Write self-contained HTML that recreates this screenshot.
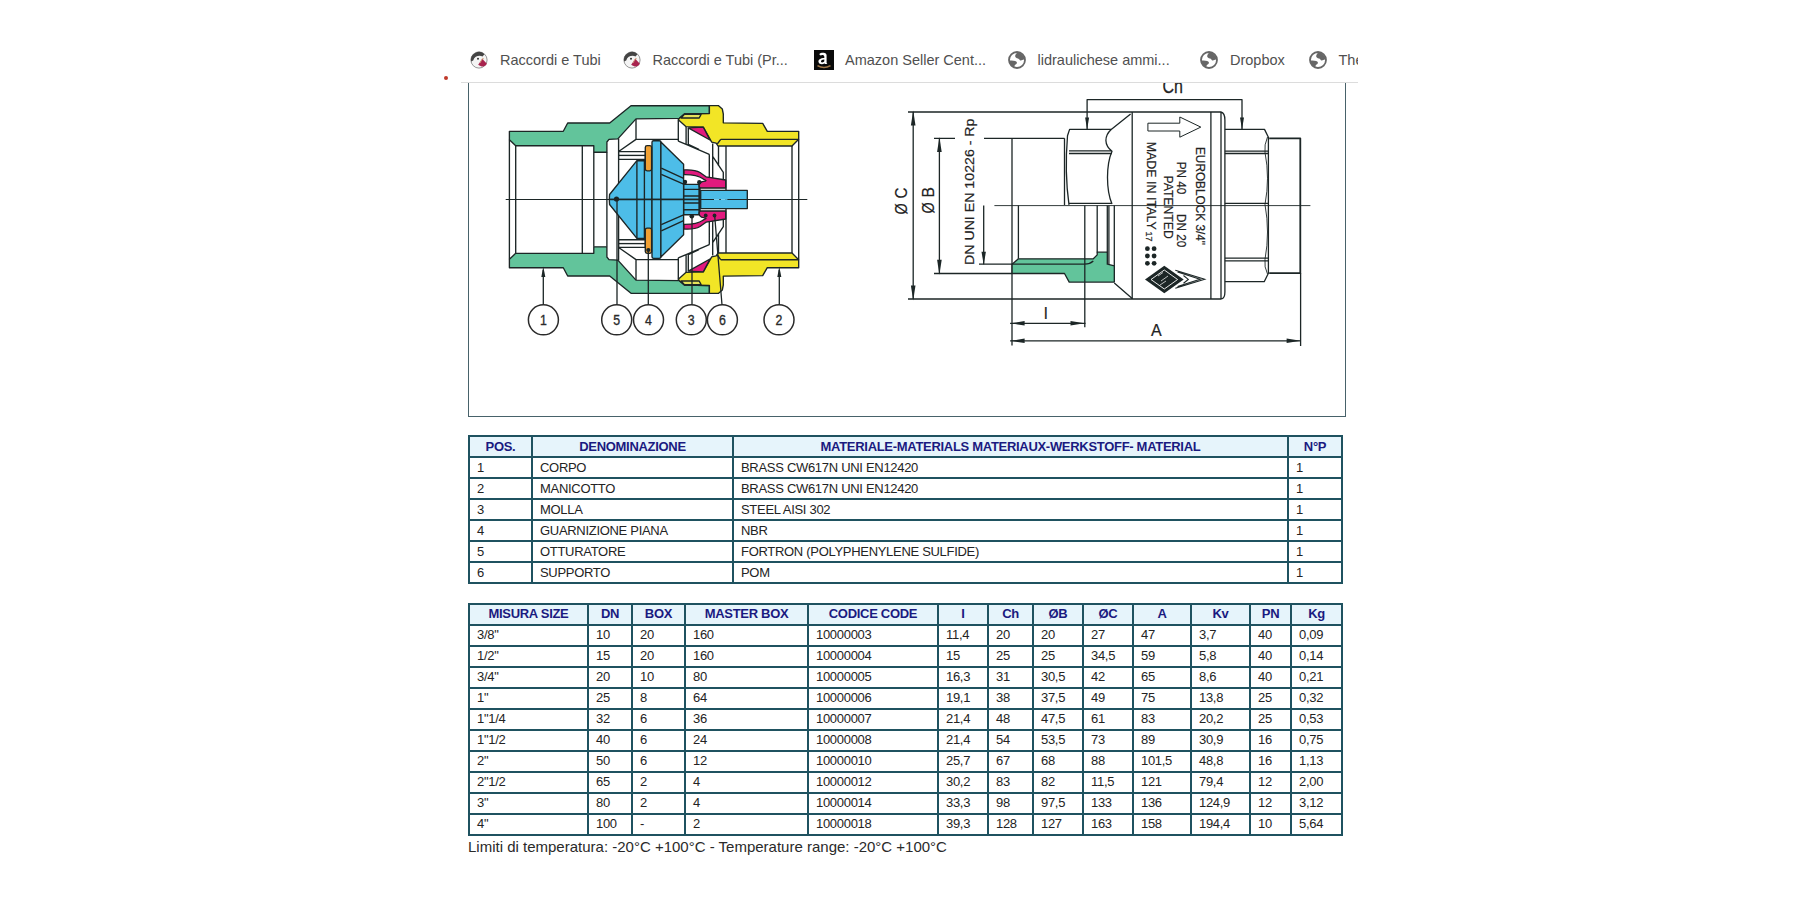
<!DOCTYPE html><html><head><meta charset="utf-8"><title>Euroblock</title><style>
*{margin:0;padding:0;box-sizing:border-box}
html,body{width:1800px;height:900px;background:#fff;overflow:hidden;position:relative;font-family:"Liberation Sans",sans-serif}
.a{position:absolute}
.t{position:absolute;font-size:13px;line-height:15px;letter-spacing:-0.3px;color:#232323;white-space:nowrap}
.h{position:absolute;font-size:13px;line-height:15px;letter-spacing:-0.3px;color:#1a1a80;font-weight:bold;white-space:nowrap;text-align:center}
.ln{position:absolute;background:#1f5260}
.bm{position:absolute;font-size:14.5px;line-height:16px;color:#505050;white-space:nowrap;top:52px}
</style></head><body>
<div class="a" style="left:468px;top:82px;width:878px;height:335px;border:1px solid #48626a;border-top:none"></div>
<svg class="a" style="left:0;top:0" width="1800" height="900" viewBox="0 0 1800 900"><g stroke="#1c2626" stroke-width="1.35" stroke-linejoin="round" fill="none"><polygon fill="#62c49b" points="509.4,131.3 563.3,131.3 567.7,123.0 609.7,123.0 631.0,105.7 709.4,105.7 709.4,113.5 684.4,114.0 679.4,118.3 636.0,118.9 617.8,138.9 609.0,139.4 606.9,142.0 606.9,152.2 593.8,152.2 593.8,145.7 515.7,145.7 509.4,139.7"/><path d="M509.4,139.7V199.5M515.7,145.7V199.5M582.3,145.7V199.5M593.8,152.2V199.5M606.9,152.2V199.5"/><path d="M636,118.9V139.4H678.3V119.7M618.6,138.6V184M619,151.3L636,139.4M678.3,141.2L686.1,144.4L709.3,154.3M678.3,139.4V141.2M686.1,127V144.4M688.3,128V144.4M688.3,144.4L698.9,149.4"/><path fill="#fff" d="M618.7,151.6H645.3V159.3H618.7Z"/><path d="M619,155.4H645.3"/><path d="M709.3,154.3V178M712.7,143.5V178M712.7,156.3L723.3,172.3V181M718.5,145.8V166M726,146V199.5"/><polygon fill="#4dbde8" points="609.3,199.5 609.6,194.5 612.0,191.5 636.9,160.7 652.0,160.7 652.0,199.5"/><path fill="#4dbde8" d="M652,199.5V142.2Q652,140.7 653.5,140.7H659.4Q660.9,140.7 660.9,142.2V199.5Z"/><polygon fill="#4dbde8" points="660.9,142.0 683.6,164.2 683.6,199.5 660.9,199.5"/><path d="M636.9,160.7V199.5M644.4,160.7V199.5M661.3,168.2L683.6,178.4M661.3,174.4L683.6,184.2"/><rect fill="#f0a033" x="645.3" y="145.6" width="6.3" height="25.3" rx="1.8"/><rect fill="#4dbde8" x="683.8" y="184.3" width="15.6" height="15.2"/><path d="M683.8,189.3H699.4M683.8,196H699.4"/><path stroke-width="2.2" d="M699.6,184.3V199.5"/><path fill="#4dbde8" d="M700.7,199.5V190.4H747.3V199.5"/><path fill="#e21a7e" d="M684,169.9C690,169.6 696,170 700,172.5L706,176.8L725.7,180V188H700.3C698.5,186.5 698.6,183.2 701.5,181.8C703.5,181 705.5,182 706,180.5L703,178.8C699,176 695,174.6 684,174.7Z"/><polygon fill="#f2e526" points="709.4,105.6 718.3,105.6 722.3,109.0 723.3,114.0 723.3,122.8 762.7,123.3 767.3,131.3 798.7,131.3 798.7,139.3 792.0,146.0 718.0,146.0 716.1,143.1 711.7,142.2 703.3,127.2 686.1,126.7 678.3,119.7 679.4,118.3 684.4,114.0 709.4,113.5"/><path d="M720.7,139.3H798.7M720.7,139.3L717.3,144"/><polygon fill="#e6e35a" points="681.1,118 684.4,114.4 701.1,114.4 699.2,118"/><polygon fill="#e21a7e" points="688.3,127.8 703.3,127.2 710,140"/><path d="M792,146V199.5M798.7,139.3V199.5"/></g><circle cx="685" cy="182" r="2.2" fill="#1c2626"/><circle cx="699.3" cy="182.3" r="2.2" fill="#1c2626"/><g transform="matrix(1,0,0,-1,0,399)"><g stroke="#1c2626" stroke-width="1.35" stroke-linejoin="round" fill="none"><polygon fill="#62c49b" points="509.4,131.3 563.3,131.3 567.7,123.0 609.7,123.0 631.0,105.7 709.4,105.7 709.4,113.5 684.4,114.0 679.4,118.3 636.0,118.9 617.8,138.9 609.0,139.4 606.9,142.0 606.9,152.2 593.8,152.2 593.8,145.7 515.7,145.7 509.4,139.7"/><path d="M509.4,139.7V199.5M515.7,145.7V199.5M582.3,145.7V199.5M593.8,152.2V199.5M606.9,152.2V199.5"/><path d="M636,118.9V139.4H678.3V119.7M618.6,138.6V184M619,151.3L636,139.4M678.3,141.2L686.1,144.4L709.3,154.3M678.3,139.4V141.2M686.1,127V144.4M688.3,128V144.4M688.3,144.4L698.9,149.4"/><path fill="#fff" d="M618.7,151.6H645.3V159.3H618.7Z"/><path d="M619,155.4H645.3"/><path d="M709.3,154.3V178M712.7,143.5V178M712.7,156.3L723.3,172.3V181M718.5,145.8V166M726,146V199.5"/><polygon fill="#4dbde8" points="609.3,199.5 609.6,194.5 612.0,191.5 636.9,160.7 652.0,160.7 652.0,199.5"/><path fill="#4dbde8" d="M652,199.5V142.2Q652,140.7 653.5,140.7H659.4Q660.9,140.7 660.9,142.2V199.5Z"/><polygon fill="#4dbde8" points="660.9,142.0 683.6,164.2 683.6,199.5 660.9,199.5"/><path d="M636.9,160.7V199.5M644.4,160.7V199.5M661.3,168.2L683.6,178.4M661.3,174.4L683.6,184.2"/><rect fill="#f0a033" x="645.3" y="145.6" width="6.3" height="25.3" rx="1.8"/><rect fill="#4dbde8" x="683.8" y="184.3" width="15.6" height="15.2"/><path d="M683.8,189.3H699.4M683.8,196H699.4"/><path stroke-width="2.2" d="M699.6,184.3V199.5"/><path fill="#4dbde8" d="M700.7,199.5V190.4H747.3V199.5"/><path fill="#e21a7e" d="M684,169.9C690,169.6 696,170 700,172.5L706,176.8L725.7,180V188H700.3C698.5,186.5 698.6,183.2 701.5,181.8C703.5,181 705.5,182 706,180.5L703,178.8C699,176 695,174.6 684,174.7Z"/><polygon fill="#f2e526" points="709.4,105.6 718.3,105.6 722.3,109.0 723.3,114.0 723.3,122.8 762.7,123.3 767.3,131.3 798.7,131.3 798.7,139.3 792.0,146.0 718.0,146.0 716.1,143.1 711.7,142.2 703.3,127.2 686.1,126.7 678.3,119.7 679.4,118.3 684.4,114.0 709.4,113.5"/><path d="M720.7,139.3H798.7M720.7,139.3L717.3,144"/><polygon fill="#e6e35a" points="681.1,118 684.4,114.4 701.1,114.4 699.2,118"/><polygon fill="#e21a7e" points="688.3,127.8 703.3,127.2 710,140"/><path d="M792,146V199.5M798.7,139.3V199.5"/></g></g><path stroke="#1c2626" stroke-width="1.1" d="M505.7,199.5H714M727.3,199.5H807.3M719.3,199.5H720.8"/><g stroke="#1c2626" stroke-width="1.3" fill="none"><path d="M543.3,270V304.7M617,199V304.7M648.3,250V304.7M692,216V304.7M714.7,216L722,304.7M779.3,270V304.7"/></g><g fill="#1c2626"><polygon points="543.3,266.5 541.3,277 545.3,277"/><polygon points="779.3,266.5 777.3,277 781.3,277"/><circle cx="616.5" cy="199.0" r="2.6"/><circle cx="648.3" cy="250.0" r="2.1"/><circle cx="691.8" cy="216.3" r="2.3"/><circle cx="705.7" cy="215.5" r="1.9"/><circle cx="714.5" cy="215.5" r="1.9"/></g><g stroke="#2a2a2a" stroke-width="1.5" fill="#fff"><circle cx="543.4" cy="319.8" r="15"/><circle cx="616.7" cy="319.8" r="15"/><circle cx="648.5" cy="319.8" r="15"/><circle cx="691.3" cy="319.8" r="15"/><circle cx="722.4" cy="319.8" r="15"/><circle cx="779.0" cy="319.8" r="15"/></g><g fill="#2a2a2a" font-family="Liberation Sans" font-size="13" text-anchor="middle"><text transform="translate(543.4,325) scale(0.95,1.12)" stroke="#2a2a2a" stroke-width="0.3">1</text><text transform="translate(616.7,325) scale(0.95,1.12)" stroke="#2a2a2a" stroke-width="0.3">5</text><text transform="translate(648.5,325) scale(0.95,1.12)" stroke="#2a2a2a" stroke-width="0.3">4</text><text transform="translate(691.3,325) scale(0.95,1.12)" stroke="#2a2a2a" stroke-width="0.3">3</text><text transform="translate(722.4,325) scale(0.95,1.12)" stroke="#2a2a2a" stroke-width="0.3">6</text><text transform="translate(779.0,325) scale(0.95,1.12)" stroke="#2a2a2a" stroke-width="0.3">2</text></g><g stroke="#1c2626" stroke-width="1.3" fill="none" stroke-linejoin="round"><path d="M908,112H1221M908,299H1221.5M934,138.3H955M984,138.3H1064.5M934,273.5H1012M979,264.2H1012"/><path d="M913.2,112V299M939.4,138.3V273.5M983.7,205.5V264.2"/><path stroke-width="0.9" d="M994.4,205.6H1310.4"/><path d="M1012,138.3V345.6M1018.4,205.6V258.8M1097.2,205.6V252.5M1107.3,205.6V264M1108.9,205.6V264M1114.3,205.6V282M1064.5,138.3V205"/><polygon fill="#62c49b" points="1012.1,264.2 1018.4,258.8 1093.3,258.8 1097.2,254.9 1097.2,252.2 1107.3,252.2 1107.3,264.2 1114.3,265.8 1114.3,282.1 1069.2,282.1 1064.5,273.5 1012.1,273.5"/><path d="M1012.1,264.2H1084.8Q1090,264 1093.3,261M1084.8,205.6V327.2"/><path d="M1069,204.9C1065.5,180 1065.5,160 1067.5,135.7L1069.6,129.4H1111.2C1104,136 1104,145 1112,151.2C1106,165 1106,190 1112,204M1069,150.9H1112M1069,153.5H1112M1069,203.3H1112"/><path d="M1130.6,113.9L1111.2,129.4M1114.3,282.9L1132.2,298.4"/><path d="M1132.2,112V299M1210.9,112V299M1221,112V299M1221,112Q1224.9,113 1224.9,120.1V291.9Q1224.9,298 1221.5,299"/><path d="M1224.9,129.4H1264.5L1268.4,137.2V273.2L1264.2,281.7H1224.9M1224.9,151.2H1268.4M1224.9,153.5H1268.4M1224.9,203.3H1268.4M1224.9,258.1H1268.4M1224.9,260.8H1268.4"/><path stroke-width="0.9" d="M1267.5,137Q1264,145 1265,152.3Q1270,178 1265,204.5Q1270,232 1265,259.5Q1264,267 1267.5,274"/><path stroke-width="1.8" d="M1269.2,138.3H1300.3V273.2H1269.2"/><path d="M1300.6,273V346M1087.1,129.4V99.6H1242V129.4M1010.1,323.3H1085.5M1010.1,340.8H1301"/><polygon stroke-width="1" points="1147.9,123.2 1179.8,123.2 1179.8,117 1200.8,127.1 1179.8,137.2 1179.8,131 1147.9,131"/></g><g fill="#1c2626"><polygon points="913.2,110.5 915.5,125.5 910.9,125.5"/><polygon points="913.2,300.5 910.9,285.5 915.5,285.5"/><polygon points="939.4,137.0 941.7,152.0 937.1,152.0"/><polygon points="939.4,274.8 937.1,259.8 941.7,259.8"/><polygon points="983.7,264.8 981.5,251.8 985.9,251.8"/><polygon points="1087.1,129.4 1085.1,117.4 1089.1,117.4"/><polygon points="1242.0,129.4 1240.0,117.4 1244.0,117.4"/><polygon points="1010.6,323.3 1024.6,321.1 1024.6,325.5"/><polygon points="1084.5,323.3 1070.5,325.5 1070.5,321.1"/><polygon points="1010.6,340.8 1024.6,338.6 1024.6,343.0"/><polygon points="1300.6,340.8 1286.6,343.0 1286.6,338.6"/><circle cx="1147.4" cy="248.7" r="2.4"/><circle cx="1147.4" cy="256.0" r="2.4"/><circle cx="1147.4" cy="263.3" r="2.4"/><circle cx="1154.1" cy="248.7" r="2.4"/><circle cx="1154.1" cy="256.0" r="2.4"/><circle cx="1154.1" cy="263.3" r="2.4"/></g><g stroke="#1c2626" fill="none" stroke-width="1.1"><polygon fill="#1c2626" stroke="none" points="1145,279.5 1164.3,265.7 1183.7,279.5 1164.3,293.3"/><polygon stroke="#fff" stroke-width="0.9" points="1151,279.5 1164.3,270 1177.6,279.5 1164.3,289"/><path stroke="#fff" stroke-width="0.7" d="M1158,276L1163,272.5M1161,281L1168,276M1160,285L1166,281"/><path d="M1175.3,270.3L1204.7,279.3L1175.3,288.3M1177.5,272L1200,279.3L1177.5,286.6M1183.5,275.5L1188.3,279.4L1183.5,283.3"/></g><g fill="#222" font-family="Liberation Sans" stroke="#222" stroke-width="0.2"><text font-size="17" transform="translate(906.6,214.6) rotate(-90) scale(0.85,1)">Ø</text><text font-size="17" transform="translate(906.6,198.6) rotate(-90) scale(0.9,1)">C</text><text font-size="17" transform="translate(933.6,213.6) rotate(-90) scale(0.85,1)">Ø</text><text font-size="17" transform="translate(933.6,197.4) rotate(-90) scale(0.92,1)">B</text><text font-size="13" transform="translate(973.8,265) rotate(-90)" textLength="146.5" lengthAdjust="spacingAndGlyphs">DN UNI EN 10226 - Rp</text><text font-size="13" transform="translate(1195.8,147) rotate(90)" textLength="98" lengthAdjust="spacingAndGlyphs">EUROBLOCK 3/4"</text><text font-size="13" transform="translate(1177.2,161.7) rotate(90)" textLength="85.5" lengthAdjust="spacingAndGlyphs" xml:space="preserve">PN 40      DN 20</text><text font-size="13" transform="translate(1163.9,175.4) rotate(90)" textLength="63.4" lengthAdjust="spacingAndGlyphs">PATENTED</text><text font-size="13" transform="translate(1147.2,141.7) rotate(90)" textLength="88" lengthAdjust="spacingAndGlyphs">MADE IN ITALY</text><text font-size="9" transform="translate(1145.8,231.5) rotate(90)" textLength="10" lengthAdjust="spacingAndGlyphs">17</text><text font-size="16" x="1151" y="336.3">A</text><text font-size="16" x="1044" y="318.6">l</text><text font-size="16" transform="translate(1162.5,92.8) scale(1,1.25)">Ch</text></g></svg>
<div class="a" style="left:0;top:0;width:1800px;height:82px;background:#fff"></div>
<div class="a" style="left:461px;top:82px;width:897px;height:1px;background:#dcdcdc"></div>
<div class="a" style="left:461px;top:0;width:897px;height:82px;overflow:hidden">
<div class="bm" style="left:39.0px">Raccordi e Tubi</div>
<div class="bm" style="left:191.5px">Raccordi e Tubi (Pr...</div>
<div class="bm" style="left:384.0px">Amazon Seller Cent...</div>
<div class="bm" style="left:576.5px">lidraulichese ammi...</div>
<div class="bm" style="left:769.0px">Dropbox</div>
<div class="bm" style="left:877.5px">The Hydraulic</div>
<svg class="a" style="left:8.0px;top:50.1px" width="20" height="20" viewBox="-10 -10 20 20"><circle r="8.1" fill="#f4f4f4" stroke="#8a8a8a" stroke-width="0.9"/><path d="M-7.9,1.5 A8,8 0 0 1 5.5,-5.8 L3.5,-3.5 C0.5,-5 -4.5,-4 -5.8,0.5 Z" fill="#444"/><circle cx="-1" cy="-1.3" r="1" fill="#333"/><path d="M-0.8,4.8 L3.2,-1.2 L7.9,3.8 C6,7 3,7.6 -0.8,4.8Z" fill="#a8234e"/><path d="M1,3 L3.6,-1.8 L5,-1" stroke="#d8a880" stroke-width="0.8" fill="none"/></svg>
<svg class="a" style="left:161.0px;top:50.1px" width="20" height="20" viewBox="-10 -10 20 20"><circle r="8.1" fill="#f4f4f4" stroke="#8a8a8a" stroke-width="0.9"/><path d="M-7.9,1.5 A8,8 0 0 1 5.5,-5.8 L3.5,-3.5 C0.5,-5 -4.5,-4 -5.8,0.5 Z" fill="#444"/><circle cx="-1" cy="-1.3" r="1" fill="#333"/><path d="M-0.8,4.8 L3.2,-1.2 L7.9,3.8 C6,7 3,7.6 -0.8,4.8Z" fill="#a8234e"/><path d="M1,3 L3.6,-1.8 L5,-1" stroke="#d8a880" stroke-width="0.8" fill="none"/></svg>
<svg class="a" style="left:353.0px;top:50.0px" width="20" height="20" viewBox="0 0 20 20"><rect width="20" height="20" fill="#0a0a0a"/><path d="M5.2,4.2 C6.5,2.6 10.5,2.2 12,3.8 C12.8,4.6 12.6,6 12.6,7.5 V12.8 C12.6,13.3 13,13.8 13.4,14 H10.8 L10.5,13.2 C9,14.6 5.5,14.7 4.6,12.2 C3.8,9.8 6.5,8 10.3,8 V6.8 C10.3,5 8,4.5 6.6,5.6 Z M10.3,9.6 C7.6,9.6 6.8,10.8 7,11.7 C7.3,12.8 9.6,12.6 10.3,11.3Z" fill="#fff"/><path d="M3.5,15.6 C7.5,18 12.5,18 16.5,15.6" stroke="#a0784a" stroke-width="1.6" fill="none"/></svg>
<svg class="a" style="left:546.0px;top:49.7px" width="20" height="20" viewBox="-10 -10 20 20"><circle r="8" fill="#fff" stroke="#666" stroke-width="1.8"/><path d="M0.3,-7.5 C-1.5,-5.8 -2.6,-3.8 -1.2,-2.4 C0.2,-1.2 1.8,-1.6 2.4,-0.4 C2.9,0.5 3.5,0.6 4.5,0.2 L7.6,-0.8 A7.7,7.7 0 0 0 0.3,-7.5Z" fill="#666"/><path d="M-7.7,0.4 C-5,0.6 -1.8,0.4 -0.5,1.8 C0.4,2.8 -0.2,3.8 -1.4,4.6 C-2.4,5.3 -2.8,6.2 -2.4,7.4 A7.7,7.7 0 0 1 -7.7,0.4Z" fill="#666"/></svg>
<svg class="a" style="left:738.0px;top:49.7px" width="20" height="20" viewBox="-10 -10 20 20"><circle r="8" fill="#fff" stroke="#666" stroke-width="1.8"/><path d="M0.3,-7.5 C-1.5,-5.8 -2.6,-3.8 -1.2,-2.4 C0.2,-1.2 1.8,-1.6 2.4,-0.4 C2.9,0.5 3.5,0.6 4.5,0.2 L7.6,-0.8 A7.7,7.7 0 0 0 0.3,-7.5Z" fill="#666"/><path d="M-7.7,0.4 C-5,0.6 -1.8,0.4 -0.5,1.8 C0.4,2.8 -0.2,3.8 -1.4,4.6 C-2.4,5.3 -2.8,6.2 -2.4,7.4 A7.7,7.7 0 0 1 -7.7,0.4Z" fill="#666"/></svg>
<svg class="a" style="left:847.0px;top:49.7px" width="20" height="20" viewBox="-10 -10 20 20"><circle r="8" fill="#fff" stroke="#666" stroke-width="1.8"/><path d="M0.3,-7.5 C-1.5,-5.8 -2.6,-3.8 -1.2,-2.4 C0.2,-1.2 1.8,-1.6 2.4,-0.4 C2.9,0.5 3.5,0.6 4.5,0.2 L7.6,-0.8 A7.7,7.7 0 0 0 0.3,-7.5Z" fill="#666"/><path d="M-7.7,0.4 C-5,0.6 -1.8,0.4 -0.5,1.8 C0.4,2.8 -0.2,3.8 -1.4,4.6 C-2.4,5.3 -2.8,6.2 -2.4,7.4 A7.7,7.7 0 0 1 -7.7,0.4Z" fill="#666"/></svg>
</div>
<div class="a" style="left:443.8px;top:75.6px;width:4.6px;height:4.6px;border-radius:50%;background:#c0392b"></div>
<div class="a" style="left:469px;top:436px;width:873px;height:21px;background:#e6f4fb"></div>
<div class="ln" style="left:468px;top:435px;width:875px;height:2px"></div>
<div class="ln" style="left:468px;top:456px;width:875px;height:2px"></div>
<div class="ln" style="left:468px;top:477px;width:875px;height:2px"></div>
<div class="ln" style="left:468px;top:498px;width:875px;height:2px"></div>
<div class="ln" style="left:468px;top:519px;width:875px;height:2px"></div>
<div class="ln" style="left:468px;top:540px;width:875px;height:2px"></div>
<div class="ln" style="left:468px;top:561px;width:875px;height:2px"></div>
<div class="ln" style="left:468px;top:582px;width:875px;height:2px"></div>
<div class="ln" style="left:468px;top:435px;width:2px;height:149px"></div>
<div class="ln" style="left:531px;top:435px;width:2px;height:149px"></div>
<div class="ln" style="left:732px;top:435px;width:2px;height:149px"></div>
<div class="ln" style="left:1287px;top:435px;width:2px;height:149px"></div>
<div class="ln" style="left:1341px;top:435px;width:2px;height:149px"></div>
<div class="h" style="left:470px;top:438.5px;width:61px">POS.</div>
<div class="h" style="left:533px;top:438.5px;width:199px">DENOMINAZIONE</div>
<div class="h" style="left:734px;top:438.5px;width:553px">MATERIALE-MATERIALS MATERIAUX-WERKSTOFF- MATERIAL</div>
<div class="h" style="left:1289px;top:438.5px;width:52px">N°P</div>
<div class="t" style="left:477px;top:459.7px">1</div>
<div class="t" style="left:540px;top:459.7px">CORPO</div>
<div class="t" style="left:741px;top:459.7px">BRASS CW617N UNI EN12420</div>
<div class="t" style="left:1296px;top:459.7px">1</div>
<div class="t" style="left:477px;top:480.7px">2</div>
<div class="t" style="left:540px;top:480.7px">MANICOTTO</div>
<div class="t" style="left:741px;top:480.7px">BRASS CW617N UNI EN12420</div>
<div class="t" style="left:1296px;top:480.7px">1</div>
<div class="t" style="left:477px;top:501.7px">3</div>
<div class="t" style="left:540px;top:501.7px">MOLLA</div>
<div class="t" style="left:741px;top:501.7px">STEEL AISI 302</div>
<div class="t" style="left:1296px;top:501.7px">1</div>
<div class="t" style="left:477px;top:522.7px">4</div>
<div class="t" style="left:540px;top:522.7px">GUARNIZIONE PIANA</div>
<div class="t" style="left:741px;top:522.7px">NBR</div>
<div class="t" style="left:1296px;top:522.7px">1</div>
<div class="t" style="left:477px;top:543.7px">5</div>
<div class="t" style="left:540px;top:543.7px">OTTURATORE</div>
<div class="t" style="left:741px;top:543.7px">FORTRON (POLYPHENYLENE SULFIDE)</div>
<div class="t" style="left:1296px;top:543.7px">1</div>
<div class="t" style="left:477px;top:564.7px">6</div>
<div class="t" style="left:540px;top:564.7px">SUPPORTO</div>
<div class="t" style="left:741px;top:564.7px">POM</div>
<div class="t" style="left:1296px;top:564.7px">1</div>
<div class="a" style="left:469px;top:604px;width:873px;height:21px;background:#e6f4fb"></div>
<div class="ln" style="left:468px;top:603px;width:875px;height:2px"></div>
<div class="ln" style="left:468px;top:624px;width:875px;height:2px"></div>
<div class="ln" style="left:468px;top:645px;width:875px;height:2px"></div>
<div class="ln" style="left:468px;top:666px;width:875px;height:2px"></div>
<div class="ln" style="left:468px;top:687px;width:875px;height:2px"></div>
<div class="ln" style="left:468px;top:708px;width:875px;height:2px"></div>
<div class="ln" style="left:468px;top:729px;width:875px;height:2px"></div>
<div class="ln" style="left:468px;top:750px;width:875px;height:2px"></div>
<div class="ln" style="left:468px;top:771px;width:875px;height:2px"></div>
<div class="ln" style="left:468px;top:792px;width:875px;height:2px"></div>
<div class="ln" style="left:468px;top:813px;width:875px;height:2px"></div>
<div class="ln" style="left:468px;top:834px;width:875px;height:2px"></div>
<div class="ln" style="left:468px;top:603px;width:2px;height:233px"></div>
<div class="ln" style="left:587px;top:603px;width:2px;height:233px"></div>
<div class="ln" style="left:631px;top:603px;width:2px;height:233px"></div>
<div class="ln" style="left:684px;top:603px;width:2px;height:233px"></div>
<div class="ln" style="left:807px;top:603px;width:2px;height:233px"></div>
<div class="ln" style="left:937px;top:603px;width:2px;height:233px"></div>
<div class="ln" style="left:987px;top:603px;width:2px;height:233px"></div>
<div class="ln" style="left:1032px;top:603px;width:2px;height:233px"></div>
<div class="ln" style="left:1082px;top:603px;width:2px;height:233px"></div>
<div class="ln" style="left:1132px;top:603px;width:2px;height:233px"></div>
<div class="ln" style="left:1190px;top:603px;width:2px;height:233px"></div>
<div class="ln" style="left:1249px;top:603px;width:2px;height:233px"></div>
<div class="ln" style="left:1290px;top:603px;width:2px;height:233px"></div>
<div class="ln" style="left:1341px;top:603px;width:2px;height:233px"></div>
<div class="h" style="left:470px;top:606.0px;width:117px">MISURA SIZE</div>
<div class="h" style="left:589px;top:606.0px;width:42px">DN</div>
<div class="h" style="left:633px;top:606.0px;width:51px">BOX</div>
<div class="h" style="left:686px;top:606.0px;width:121px">MASTER BOX</div>
<div class="h" style="left:809px;top:606.0px;width:128px">CODICE CODE</div>
<div class="h" style="left:939px;top:606.0px;width:48px">I</div>
<div class="h" style="left:989px;top:606.0px;width:43px">Ch</div>
<div class="h" style="left:1034px;top:606.0px;width:48px">ØB</div>
<div class="h" style="left:1084px;top:606.0px;width:48px">ØC</div>
<div class="h" style="left:1134px;top:606.0px;width:56px">A</div>
<div class="h" style="left:1192px;top:606.0px;width:57px">Kv</div>
<div class="h" style="left:1251px;top:606.0px;width:39px">PN</div>
<div class="h" style="left:1292px;top:606.0px;width:49px">Kg</div>
<div class="t" style="left:477px;top:626.8px">3/8"</div>
<div class="t" style="left:596px;top:626.8px">10</div>
<div class="t" style="left:640px;top:626.8px">20</div>
<div class="t" style="left:693px;top:626.8px">160</div>
<div class="t" style="left:816px;top:626.8px">10000003</div>
<div class="t" style="left:946px;top:626.8px">11,4</div>
<div class="t" style="left:996px;top:626.8px">20</div>
<div class="t" style="left:1041px;top:626.8px">20</div>
<div class="t" style="left:1091px;top:626.8px">27</div>
<div class="t" style="left:1141px;top:626.8px">47</div>
<div class="t" style="left:1199px;top:626.8px">3,7</div>
<div class="t" style="left:1258px;top:626.8px">40</div>
<div class="t" style="left:1299px;top:626.8px">0,09</div>
<div class="t" style="left:477px;top:647.8px">1/2"</div>
<div class="t" style="left:596px;top:647.8px">15</div>
<div class="t" style="left:640px;top:647.8px">20</div>
<div class="t" style="left:693px;top:647.8px">160</div>
<div class="t" style="left:816px;top:647.8px">10000004</div>
<div class="t" style="left:946px;top:647.8px">15</div>
<div class="t" style="left:996px;top:647.8px">25</div>
<div class="t" style="left:1041px;top:647.8px">25</div>
<div class="t" style="left:1091px;top:647.8px">34,5</div>
<div class="t" style="left:1141px;top:647.8px">59</div>
<div class="t" style="left:1199px;top:647.8px">5,8</div>
<div class="t" style="left:1258px;top:647.8px">40</div>
<div class="t" style="left:1299px;top:647.8px">0,14</div>
<div class="t" style="left:477px;top:668.8px">3/4"</div>
<div class="t" style="left:596px;top:668.8px">20</div>
<div class="t" style="left:640px;top:668.8px">10</div>
<div class="t" style="left:693px;top:668.8px">80</div>
<div class="t" style="left:816px;top:668.8px">10000005</div>
<div class="t" style="left:946px;top:668.8px">16,3</div>
<div class="t" style="left:996px;top:668.8px">31</div>
<div class="t" style="left:1041px;top:668.8px">30,5</div>
<div class="t" style="left:1091px;top:668.8px">42</div>
<div class="t" style="left:1141px;top:668.8px">65</div>
<div class="t" style="left:1199px;top:668.8px">8,6</div>
<div class="t" style="left:1258px;top:668.8px">40</div>
<div class="t" style="left:1299px;top:668.8px">0,21</div>
<div class="t" style="left:477px;top:689.8px">1"</div>
<div class="t" style="left:596px;top:689.8px">25</div>
<div class="t" style="left:640px;top:689.8px">8</div>
<div class="t" style="left:693px;top:689.8px">64</div>
<div class="t" style="left:816px;top:689.8px">10000006</div>
<div class="t" style="left:946px;top:689.8px">19,1</div>
<div class="t" style="left:996px;top:689.8px">38</div>
<div class="t" style="left:1041px;top:689.8px">37,5</div>
<div class="t" style="left:1091px;top:689.8px">49</div>
<div class="t" style="left:1141px;top:689.8px">75</div>
<div class="t" style="left:1199px;top:689.8px">13,8</div>
<div class="t" style="left:1258px;top:689.8px">25</div>
<div class="t" style="left:1299px;top:689.8px">0,32</div>
<div class="t" style="left:477px;top:710.8px">1"1/4</div>
<div class="t" style="left:596px;top:710.8px">32</div>
<div class="t" style="left:640px;top:710.8px">6</div>
<div class="t" style="left:693px;top:710.8px">36</div>
<div class="t" style="left:816px;top:710.8px">10000007</div>
<div class="t" style="left:946px;top:710.8px">21,4</div>
<div class="t" style="left:996px;top:710.8px">48</div>
<div class="t" style="left:1041px;top:710.8px">47,5</div>
<div class="t" style="left:1091px;top:710.8px">61</div>
<div class="t" style="left:1141px;top:710.8px">83</div>
<div class="t" style="left:1199px;top:710.8px">20,2</div>
<div class="t" style="left:1258px;top:710.8px">25</div>
<div class="t" style="left:1299px;top:710.8px">0,53</div>
<div class="t" style="left:477px;top:731.8px">1"1/2</div>
<div class="t" style="left:596px;top:731.8px">40</div>
<div class="t" style="left:640px;top:731.8px">6</div>
<div class="t" style="left:693px;top:731.8px">24</div>
<div class="t" style="left:816px;top:731.8px">10000008</div>
<div class="t" style="left:946px;top:731.8px">21,4</div>
<div class="t" style="left:996px;top:731.8px">54</div>
<div class="t" style="left:1041px;top:731.8px">53,5</div>
<div class="t" style="left:1091px;top:731.8px">73</div>
<div class="t" style="left:1141px;top:731.8px">89</div>
<div class="t" style="left:1199px;top:731.8px">30,9</div>
<div class="t" style="left:1258px;top:731.8px">16</div>
<div class="t" style="left:1299px;top:731.8px">0,75</div>
<div class="t" style="left:477px;top:752.8px">2"</div>
<div class="t" style="left:596px;top:752.8px">50</div>
<div class="t" style="left:640px;top:752.8px">6</div>
<div class="t" style="left:693px;top:752.8px">12</div>
<div class="t" style="left:816px;top:752.8px">10000010</div>
<div class="t" style="left:946px;top:752.8px">25,7</div>
<div class="t" style="left:996px;top:752.8px">67</div>
<div class="t" style="left:1041px;top:752.8px">68</div>
<div class="t" style="left:1091px;top:752.8px">88</div>
<div class="t" style="left:1141px;top:752.8px">101,5</div>
<div class="t" style="left:1199px;top:752.8px">48,8</div>
<div class="t" style="left:1258px;top:752.8px">16</div>
<div class="t" style="left:1299px;top:752.8px">1,13</div>
<div class="t" style="left:477px;top:773.8px">2"1/2</div>
<div class="t" style="left:596px;top:773.8px">65</div>
<div class="t" style="left:640px;top:773.8px">2</div>
<div class="t" style="left:693px;top:773.8px">4</div>
<div class="t" style="left:816px;top:773.8px">10000012</div>
<div class="t" style="left:946px;top:773.8px">30,2</div>
<div class="t" style="left:996px;top:773.8px">83</div>
<div class="t" style="left:1041px;top:773.8px">82</div>
<div class="t" style="left:1091px;top:773.8px">11,5</div>
<div class="t" style="left:1141px;top:773.8px">121</div>
<div class="t" style="left:1199px;top:773.8px">79,4</div>
<div class="t" style="left:1258px;top:773.8px">12</div>
<div class="t" style="left:1299px;top:773.8px">2,00</div>
<div class="t" style="left:477px;top:794.8px">3"</div>
<div class="t" style="left:596px;top:794.8px">80</div>
<div class="t" style="left:640px;top:794.8px">2</div>
<div class="t" style="left:693px;top:794.8px">4</div>
<div class="t" style="left:816px;top:794.8px">10000014</div>
<div class="t" style="left:946px;top:794.8px">33,3</div>
<div class="t" style="left:996px;top:794.8px">98</div>
<div class="t" style="left:1041px;top:794.8px">97,5</div>
<div class="t" style="left:1091px;top:794.8px">133</div>
<div class="t" style="left:1141px;top:794.8px">136</div>
<div class="t" style="left:1199px;top:794.8px">124,9</div>
<div class="t" style="left:1258px;top:794.8px">12</div>
<div class="t" style="left:1299px;top:794.8px">3,12</div>
<div class="t" style="left:477px;top:815.8px">4"</div>
<div class="t" style="left:596px;top:815.8px">100</div>
<div class="t" style="left:640px;top:815.8px">-</div>
<div class="t" style="left:693px;top:815.8px">2</div>
<div class="t" style="left:816px;top:815.8px">10000018</div>
<div class="t" style="left:946px;top:815.8px">39,3</div>
<div class="t" style="left:996px;top:815.8px">128</div>
<div class="t" style="left:1041px;top:815.8px">127</div>
<div class="t" style="left:1091px;top:815.8px">163</div>
<div class="t" style="left:1141px;top:815.8px">158</div>
<div class="t" style="left:1199px;top:815.8px">194,4</div>
<div class="t" style="left:1258px;top:815.8px">10</div>
<div class="t" style="left:1299px;top:815.8px">5,64</div>
<div class="a" style="left:468px;top:838px;font-size:15px;line-height:17px;color:#2a2a2a;white-space:nowrap">Limiti di temperatura: -20°C +100°C - Temperature range: -20°C +100°C</div>
</body></html>
